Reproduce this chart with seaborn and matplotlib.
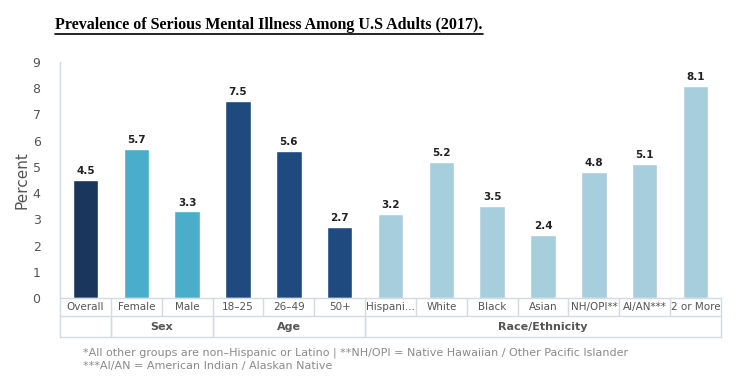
import matplotlib
matplotlib.use("Agg")
import matplotlib.pyplot as plt
import matplotlib.transforms as mtransforms
import seaborn as sns
import pandas as pd

categories = ["Overall", "Female", "Male", "18–25", "26–49", "50+", "Hispani...",
              "White", "Black", "Asian", "NH/OPI**", "AI/AN***", "2 or More"]
values = [4.5, 5.7, 3.3, 7.5, 5.6, 2.7, 3.2, 5.2, 3.5, 2.4, 4.8, 5.1, 8.1]
groups = ["Overall", "Sex", "Sex", "Age", "Age", "Age", "Race/Ethnicity",
          "Race/Ethnicity", "Race/Ethnicity", "Race/Ethnicity", "Race/Ethnicity",
          "Race/Ethnicity", "Race/Ethnicity"]
group_labels = ["", "Sex", "Age", "Race/Ethnicity"]
group_spans = [(0, 0), (1, 2), (3, 5), (6, 12)]
palette = {"Overall": "#1b365d", "Sex": "#4aadca", "Age": "#1f4a80",
           "Race/Ethnicity": "#a7cedd"}

df = pd.DataFrame({"cat": categories, "val": values, "grp": groups})

sns.set_style("white")
fig = plt.figure(figsize=(7.38, 3.78), dpi=100)
ax = fig.add_axes([60 / 738, 1 - 298 / 378, 661 / 738, 236 / 378])

sns.barplot(data=df, x="cat", y="val", hue="grp", palette=palette,
            dodge=False, width=0.5, legend=False, ax=ax, saturation=1)

ax.set_ylim(0, 9)
ax.set_xlim(-0.5, len(categories) - 0.5)
ax.set_yticks(range(0, 10))
ax.tick_params(axis="y", labelsize=9, colors="#555555", length=0, pad=14)
ax.set_xticks([])
ax.set_xlabel("")
ax.set_ylabel("Percent", fontsize=11, color="#555555", labelpad=2)
for s in ["top", "right", "bottom"]:
    ax.spines[s].set_visible(False)
ax.spines["left"].set_color("#d5d9e3")
ax.spines["left"].set_linewidth(1)

for i, v in enumerate(values):
    ax.text(i, v + 0.15, f"{v:.1f}", ha="center", va="bottom", fontsize=7.5,
            fontweight="bold", color="#222222")

# table beneath axes
trans = mtransforms.blended_transform_factory(ax.transData, ax.transAxes)
r1 = -18 / 236
r2 = -39 / 236
lc = "#d5d9e3"
ax.plot([-0.5, 12.5], [0, 0], transform=trans, color=lc, lw=1, clip_on=False)
ax.plot([-0.5, 12.5], [r1, r1], transform=trans, color=lc, lw=1, clip_on=False)
ax.plot([-0.5, 12.5], [r2, r2], transform=trans, color=lc, lw=1, clip_on=False)
for i in range(len(categories) + 1):
    ax.plot([i - 0.5, i - 0.5], [0, r1], transform=trans, color=lc, lw=1, clip_on=False)
for (a, b) in group_spans:
    for x in (a - 0.5, b + 0.5):
        ax.plot([x, x], [r1, r2], transform=trans, color=lc, lw=1, clip_on=False)
for i, c in enumerate(categories):
    ax.text(i, r1 / 2, c, transform=trans, ha="center", va="center",
            fontsize=7.5, color="#555555")
for lab, (a, b) in zip(group_labels, group_spans):
    ax.text((a + b) / 2, (r1 + r2) / 2, lab, transform=trans, ha="center",
            va="center", fontsize=8, fontweight="bold", color="#555555")

title = fig.text(55 / 738, 1 - 25 / 378,
                 "Prevalence of Serious Mental Illness Among U.S Adults (2017).",
                 fontsize=11.5, fontweight="bold", family="Liberation Serif",
                 ha="left", va="center", color="black")
fig.canvas.draw()
bb = title.get_window_extent().transformed(fig.transFigure.inverted())
fig.add_artist(plt.Line2D([bb.x0, bb.x1], [bb.y0 - 0.003, bb.y0 - 0.003],
                          color="black", lw=1.2, transform=fig.transFigure))

fig.text(83 / 738, 1 - 353 / 378,
         "*All other groups are non–Hispanic or Latino | **NH/OPI = Native Hawaiian / Other Pacific Islander",
         fontsize=8, color="#8a8a8a", ha="left", va="center")
fig.text(83 / 738, 1 - 366 / 378,
         "***AI/AN = American Indian / Alaskan Native",
         fontsize=8, color="#8a8a8a", ha="left", va="center")

fig.savefig("out.png", dpi=100)
